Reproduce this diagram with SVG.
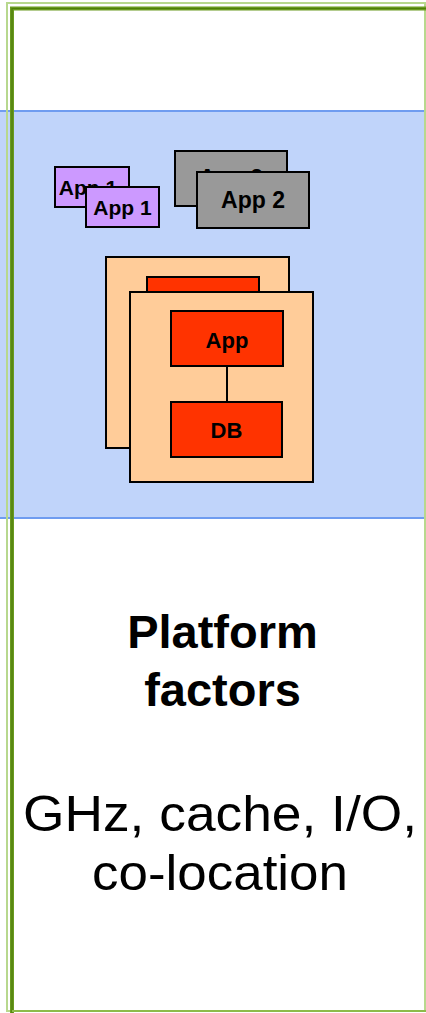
<svg xmlns="http://www.w3.org/2000/svg" width="426" height="1013" viewBox="0 0 426 1013">
  <style>
    .lbl { font-family: "Liberation Sans", Arial, sans-serif; font-weight: bold; fill: #000; text-anchor: middle; }
    .box { stroke: #000; stroke-width: 2; }
    .purple { fill: #CC99FF; }
    .grey { fill: #999999; }
    .peach { fill: #FFCC99; }
    .red { fill: #FF3300; }
  </style>
  <!-- page background -->
  <rect x="0" y="0" width="426" height="1013" fill="#FFFFFF"/>

  <!-- infrastructure band -->
  <g id="band">
    <rect x="0" y="110" width="426" height="409" fill="#C0D4FA"/>
    <line x1="0" y1="111" x2="426" y2="111" stroke="#6F9CF0" stroke-width="2"/>
    <line x1="0" y1="518" x2="426" y2="518" stroke="#6F9CF0" stroke-width="2"/>
  </g>

  <!-- column frame -->
  <g id="frame" fill="none">
    <rect x="7" y="3" width="418" height="1008" stroke="#B8D88E" stroke-width="2"/>
    <polyline points="12,1013 12,8.5 426,8.5" stroke="#6A9A20" stroke-width="4"/>
    <polyline points="12,1013 12,8.5 426,8.5" stroke="#4E7E0A" stroke-width="1.2"/>
    <line x1="12" y1="1011" x2="426" y2="1011" stroke="#8DBB4A" stroke-width="2"/>
  </g>

  <!-- App 1 pair -->
  <g id="app1-back">
    <rect class="box purple" x="55" y="167" width="74" height="40"/>
    <text class="lbl" x="88" y="195" font-size="21">App 1</text>
  </g>
  <g id="app1-front">
    <rect class="box purple" x="86" y="187" width="73" height="40"/>
    <text class="lbl" x="122.5" y="215" font-size="21">App 1</text>
  </g>

  <!-- App 2 pair -->
  <g id="app2-back">
    <rect class="box grey" x="175" y="151" width="112" height="55"/>
    <text class="lbl" x="231" y="186" font-size="23">App 2</text>
  </g>
  <g id="app2-front">
    <rect class="box grey" x="197" y="172" width="112" height="56"/>
    <text class="lbl" x="253" y="208" font-size="23">App 2</text>
  </g>

  <!-- server stack -->
  <g id="server-back">
    <rect class="box peach" x="106" y="257" width="183" height="191"/>
    <rect class="box red" x="147" y="277" width="112" height="40"/>
  </g>
  <g id="server-front">
    <rect class="box peach" x="130" y="292" width="183" height="190"/>
  </g>

  <g id="connectors">
    <line x1="227" y1="366" x2="227" y2="402" stroke="#000" stroke-width="2"/>
  </g>

  <g id="app-tier">
    <rect class="box red" x="171" y="311" width="112" height="55"/>
    <text class="lbl" x="227" y="348" font-size="22">App</text>
  </g>
  <g id="db-tier">
    <rect class="box red" x="171" y="402" width="111" height="55"/>
    <text class="lbl" x="226.5" y="438" font-size="22">DB</text>
  </g>

  <!-- caption -->
  <g id="caption" font-family="'Liberation Sans', Arial, sans-serif" text-anchor="middle" fill="#000">
    <text x="222.5" y="648" font-size="47" font-weight="bold">Platform</text>
    <text x="222.5" y="706" font-size="47" font-weight="bold">factors</text>
    <text x="220" y="831" font-size="50" textLength="394" lengthAdjust="spacingAndGlyphs">GHz, cache, I/O,</text>
    <text x="220" y="890" font-size="50" textLength="256" lengthAdjust="spacingAndGlyphs">co-location</text>
  </g>
</svg>
